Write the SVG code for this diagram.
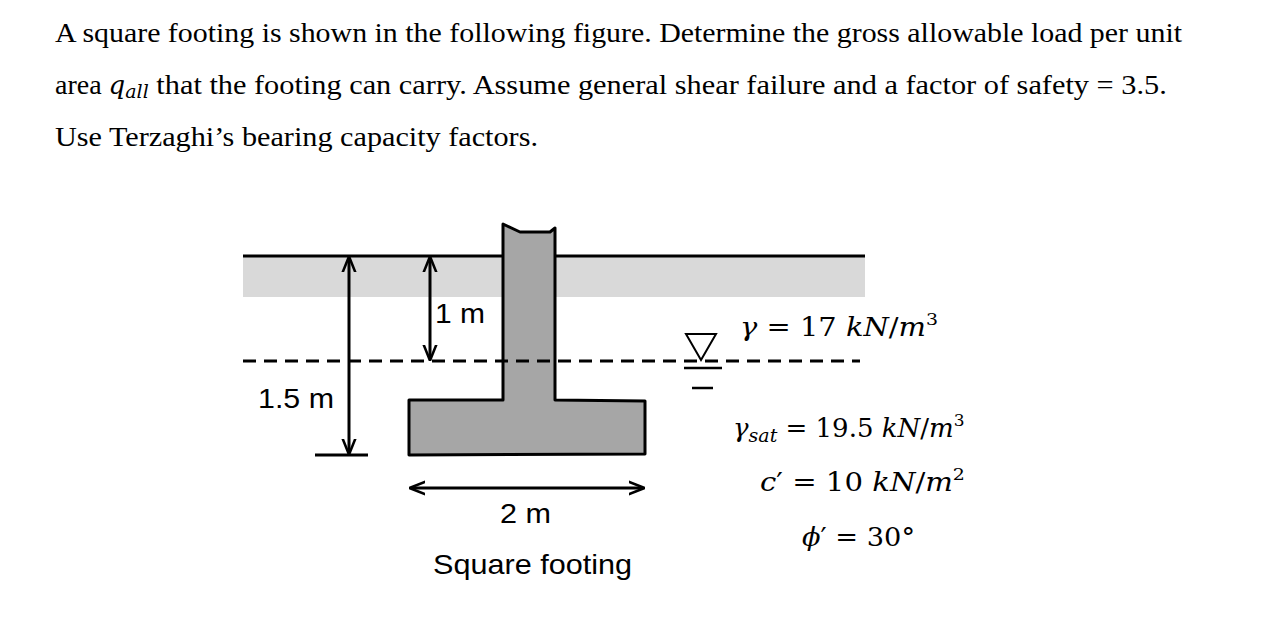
<svg xmlns="http://www.w3.org/2000/svg" width="1270" height="633" viewBox="0 0 1270 633">
<style>
.p{font-family:"Liberation Serif",serif;font-size:28px;fill:#000}
.l{font-family:"Liberation Sans",Arial,sans-serif;font-size:28px;fill:#000}
.m{font-family:"DejaVu Serif","Liberation Serif",serif;font-size:26px;fill:#000}
.ln{stroke:#000;stroke-width:3;fill:none}
</style>
<defs>
<marker id="b" viewBox="0 0 10 10" refX="9" refY="5" markerWidth="16" markerHeight="16" orient="auto-start-reverse" markerUnits="userSpaceOnUse"><path d="M0,1 L10,5 L0,9" fill="none" stroke="#000" stroke-width="1.6"/></marker>
</defs>
<rect width="1270" height="633" fill="#fff"/>
<g id="question">
<text class="p" x="55" y="42" textLength="1127" lengthAdjust="spacingAndGlyphs">A square footing is shown in the following figure. Determine the gross allowable load per unit</text>
<text class="p" x="55" y="94">area <tspan font-style="italic" font-family="DejaVu Serif" font-size="26">q<tspan font-size="19" dy="4">all</tspan></tspan><tspan dy="-4" textLength="1018" lengthAdjust="spacingAndGlyphs"> that the footing can carry. Assume general shear failure and a factor of safety = 3.5.</tspan></text>
<text class="p" x="55" y="146" textLength="483" lengthAdjust="spacingAndGlyphs">Use Terzaghi’s bearing capacity factors.</text>
</g>
<g id="soil">
<rect x="243" y="257" width="622" height="40" fill="#d9d9d9"/>
<line class="ln" x1="243" y1="256" x2="865" y2="256"/>
</g>
<g id="footing">
<path d="M503,224 L520,232 L550,232 L555,228 L555,400 L645,401 L645,454 L409,455 L409,400 L503,400 Z" fill="#a6a6a6" stroke="#000" stroke-width="3" stroke-linejoin="round"/>
</g>
<line x1="243" y1="361" x2="860" y2="361" stroke="#000" stroke-width="3" stroke-dasharray="13,8"/>
<g id="water-table">
<path d="M686,334 L716,334 L701,360 Z" fill="#fff" stroke="#000" stroke-width="2"/>
<line x1="684" y1="368" x2="722" y2="368" stroke="#000" stroke-width="2.5"/>
<line x1="692" y1="388" x2="713" y2="388" stroke="#000" stroke-width="2.5"/>
</g>
<g id="connectors">
<line class="ln" x1="349" y1="258" x2="349" y2="453" marker-start="url(#b)" marker-end="url(#b)" stroke-width="2.5"/>
<line class="ln" x1="315" y1="455" x2="368" y2="455"/>
<line class="ln" x1="430" y1="258" x2="430" y2="359" marker-start="url(#b)" marker-end="url(#b)" stroke-width="2.5"/>
<line class="ln" x1="411" y1="488" x2="643" y2="488" marker-start="url(#b)" marker-end="url(#b)" stroke-width="2.5"/>
</g>
<g id="labels">
<text class="l" x="435" y="323" textLength="50" lengthAdjust="spacingAndGlyphs">1 m</text>
<text class="l" x="258" y="408" textLength="76" lengthAdjust="spacingAndGlyphs">1.5 m</text>
<text class="l" x="500" y="523" textLength="51" lengthAdjust="spacingAndGlyphs">2 m</text>
<text class="l" x="433" y="574" textLength="199" lengthAdjust="spacingAndGlyphs">Square footing</text>
</g>
<g id="properties">
<text class="m" x="740" y="336" textLength="198" lengthAdjust="spacingAndGlyphs"><tspan font-style="italic">γ</tspan> = 17 <tspan font-style="italic">kN</tspan>/<tspan font-style="italic">m</tspan><tspan font-size="17" dy="-11">3</tspan></text>
<text class="m" x="733" y="437"><tspan font-style="italic">γ</tspan><tspan font-style="italic" font-size="19" dy="5">sat</tspan><tspan dy="-5"> = 19.5 </tspan><tspan font-style="italic">kN</tspan>/<tspan font-style="italic">m</tspan><tspan font-size="17" dy="-11">3</tspan></text>
<text class="m" x="760" y="491" textLength="205" lengthAdjust="spacingAndGlyphs"><tspan font-style="italic">c</tspan>′ = 10 <tspan font-style="italic">kN</tspan>/<tspan font-style="italic">m</tspan><tspan font-size="17" dy="-11">2</tspan></text>
<text class="m" x="802" y="546" textLength="113" lengthAdjust="spacingAndGlyphs"><tspan font-style="italic">ϕ</tspan>′ = 30°</text>
</g>
</svg>
